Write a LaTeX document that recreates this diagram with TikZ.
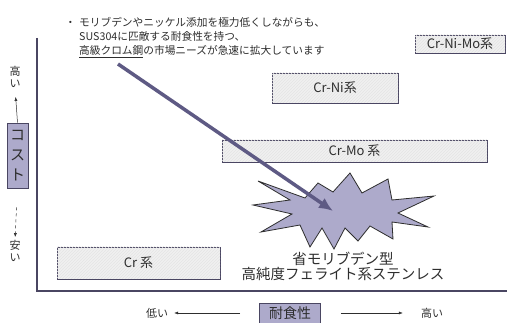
\documentclass[tikz,border=0pt]{standalone}
\usepackage{fontspec}
\setmainfont{Noto Sans CJK JP}
\usetikzlibrary{arrows.meta,patterns}
\definecolor{ax}{HTML}{4A4662}
\definecolor{lav}{HTML}{ADAACB}
\definecolor{arr}{HTML}{5E5A84}
\definecolor{txt}{HTML}{2E2E2E}
\definecolor{boxfill}{HTML}{F0F0F0}
\newcommand\myul[1]{\vtop{\hbox{#1}\kern1.2pt\hrule height 1.2pt}}
\begin{document}
\begin{tikzpicture}[x=1pt,y=-1pt,
  catbox/.style={draw=ax,line width=0.8pt,fill=boxfill,inner sep=0pt,
    postaction={pattern=north east lines,pattern color=black!10},
    text=txt,font=\fontsize{13}{15}\selectfont},
  lavbox/.style={draw=ax,line width=0.8pt,fill=lav,inner sep=0pt,text=txt},
  note/.style={text=txt,font=\fontsize{10.7}{12}\selectfont,inner sep=0pt,anchor=base west},
  small/.style={text=txt,font=\fontsize{11}{12}\selectfont,inner sep=0pt,align=center},
  axisline/.style={draw=ax,line width=1.2pt},
  thinarrow/.style={draw=txt,line width=0.5pt,-{Latex[length=4pt,width=3pt]}},
  bigarrow/.style={draw=arr,line width=3.5pt,-{Latex[length=14pt,width=12pt]}}
]
\useasboundingbox (0,0) rectangle (507,323);
\fill[white] (0,0) rectangle (507,323);

% top note
\node[note] (bul) at (65,26.5) {・};
\node[note] (n1) at (79,26.5) {モリブデンやニッケル添加を極力低くしながらも、};
\node[note] (n2) at (79,41) {SUS304に匹敵する耐食性を持つ、};
\node[note] (n3) at (79,55) {\myul{高級クロム鋼}の市場ニーズが急速に拡大しています};

% axes
\coordinate (ytop) at (37,38);
\coordinate (orig) at (37,291);
\coordinate (xend) at (507,291);
\draw[axisline] (ytop) -- (orig) -- (xend);

% category boxes
\node[catbox,minimum width=90,minimum height=18] (crnimo) at (460,44) {Cr-Ni-Mo系};
\node[catbox,minimum width=126,minimum height=30] (crni) at (335,88) {Cr-Ni系};
\node[catbox,minimum width=265,minimum height=22] (crmo) at (354.5,151) {Cr-Mo 系};
\node[catbox,minimum width=163,minimum height=32] (cr) at (138.5,263) {Cr 系};

% starburst
\draw[fill=lav,draw=txt,line width=0.8pt,line join=miter]
  (258,181) -- (305,198) -- (318,183) -- (333,192) -- (350,173) -- (362,193)
  -- (388,179) -- (392,200) -- (434,196) -- (398,213) -- (428,227) -- (392,222)
  -- (393,239) -- (370,226) -- (358,241) -- (345,228) -- (334,249) -- (322,228)
  -- (310,247) -- (300,225) -- (261,232) -- (292,214) -- (253,205) -- (290,200) -- cycle;
\node[text=txt,font=\fontsize{14.5}{15}\selectfont,align=center,inner sep=0pt] (ferr) at (343,266)
  {省モリブデン型\\高純度フェライト系ステンレス};

% big arrow
\coordinate (src) at (118,64);
\coordinate (burst) at (333,211);
\draw[bigarrow] (src) -- (burst);

% left axis labels
\node[small] (hi) at (15,77) {高\\い};
\node[lavbox,minimum width=21,minimum height=65,align=center,font=\fontsize{15}{20}\selectfont] (cost) at (17.5,155.5) {コ\\ス\\ト};
\node[small] (lo) at (15,251) {安\\い};
\draw[thinarrow,shorten >=9pt] (cost.north) -- (hi.south);
\draw[thinarrow,dashed,shorten <=19pt,shorten >=3pt] (cost.south) -- (lo.north);

% bottom axis labels
\node[small] (lowx) at (157,313) {低い};
\node[lavbox,minimum width=61,minimum height=20,font=\fontsize{14}{15}\selectfont] (tai) at (290,313) {耐食性};
\node[small] (highx) at (432,313) {高い};
\draw[thinarrow,shorten <=19pt,shorten >=6pt] (tai.west) -- (lowx.east);
\draw[thinarrow,shorten <=20pt,shorten >=18pt] (tai.east) -- (highx.west);
\end{tikzpicture}
\end{document}
